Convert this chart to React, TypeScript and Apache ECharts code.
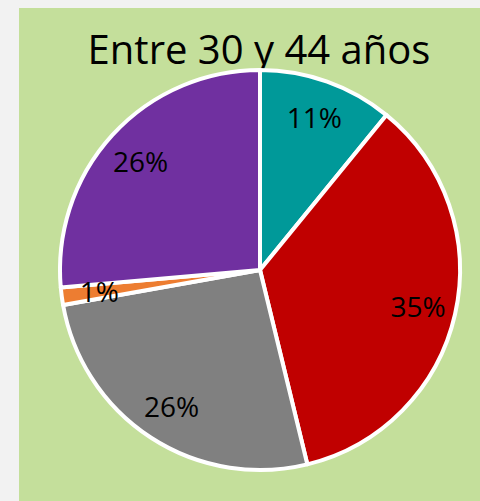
import React, { useEffect, useRef } from "react";
import * as echarts from "echarts";

const categories = ["Teal", "Rojo", "Gris", "Naranja", "Morado"];
const values = [10.9, 35.3, 26.0, 1.4, 26.4];
const colors = ["#009999", "#c00000", "#808080", "#ed7d31", "#7030a0"];
const titleText = "Entre 30 y 44 años";

export default function App() {
  const ref = useRef<HTMLDivElement>(null);
  useEffect(() => {
    if (!ref.current) return;
    const chart = echarts.init(ref.current, null, { renderer: "svg" });
    const data = categories.map((c, i) => ({ name: c, value: values[i], itemStyle: { color: colors[i] } }));
    const total = values.reduce((a, b) => a + b, 0);
    chart.setOption({
      animation: false,
      backgroundColor: "#c4df9b",
      graphic: [
        {
          type: "text",
          x: 240,
          y: 40,
          style: {
            text: titleText,
            font: "40px 'Open Sans'",
            fill: "#000",
            textAlign: "center",
            textVerticalAlign: "middle",
          },
        },
      ],
      series: [
        {
          type: "pie",
          center: [241, 262],
          radius: [0, 200],
          startAngle: 90,
          clockwise: true,
          silent: true,
          label: { show: false },
          labelLine: { show: false },
          itemStyle: { borderColor: "#ffffff", borderWidth: 4 },
          data,
        },
        {
          type: "pie",
          center: [241, 262],
          radius: [118, 200],
          startAngle: 90,
          clockwise: true,
          silent: true,
          itemStyle: { color: "transparent", borderWidth: 0 },
          label: {
            show: true,
            position: "inside",
            formatter: (p: any) => Math.round((p.value / total) * 100) + "%",
            fontFamily: "'Open Sans'",
            fontSize: 28,
            color: "#000",
          },
          labelLine: { show: false },
          data: categories.map((c, i) => ({ name: c, value: values[i] })),
        },
      ],
    });
    return () => chart.dispose();
  }, []);
  return (
    <div style={{ position: "fixed", left: 0, top: 0, width: 480, height: 501, background: "#f2f2f2" }}>
      <div ref={ref} style={{ position: "absolute", left: 19, top: 8, width: 461, height: 493 }} />
    </div>
  );
}
